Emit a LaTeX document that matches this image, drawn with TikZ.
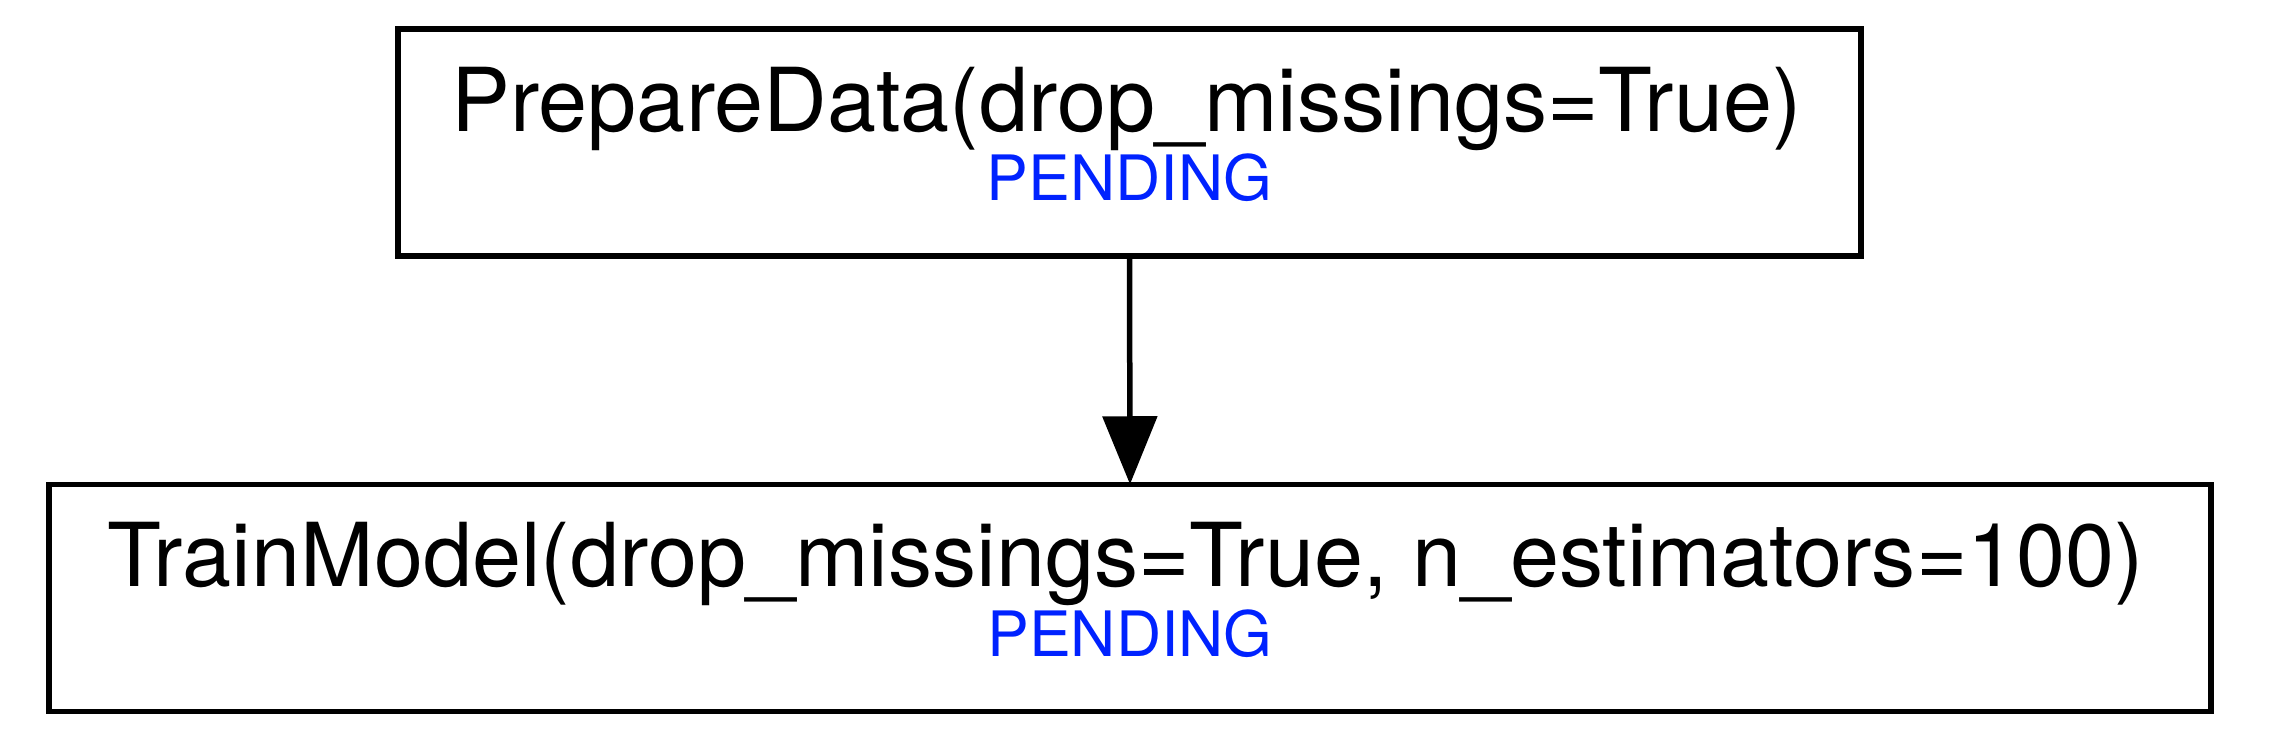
\documentclass[tikz,border=0pt]{standalone}
\usepackage{fontspec}
\setmainfont{TeX Gyre Heros}
\usetikzlibrary{arrows.meta,calc}
\definecolor{pendblue}{RGB}{0,34,255}
\tikzset{
  taskbox/.style={draw=black, line width=2.75pt, rectangle, inner sep=0pt, outer sep=0pt, minimum height=113.5pt},
  tasktext/.style={anchor=base, inner sep=0pt, font=\fontsize{44.1}{53}\selectfont},
  statustext/.style={anchor=base, inner sep=0pt, text=pendblue, font=\fontsize{31.3}{37}\selectfont},
  flow/.style={draw=black, line width=2.75pt, -{Triangle[length=34pt,width=27pt]}}
}
\begin{document}
\begin{tikzpicture}[x=0.5pt,y=-0.5pt]
\useasboundingbox (0,0) rectangle (2274,754);
\node[taskbox, minimum width=731.5pt] (prep) at (1129.5,142.5) {};
\node[taskbox, minimum width=1081pt] (train) at (1130,597.75) {};
\node[tasktext] (preplabel) at ($(prep.north)+(-1.5pt,-51.5pt)$) {PrepareData(drop\_missings=True)};
\node[statustext] (prepstatus) at ($(prep.north)+(0,-86pt)$) {PENDING};
\node[tasktext] (trainlabel) at ($(train.north)+(-2pt,-51.25pt)$) {TrainModel(drop\_missings=True, n\_estimators=100)};
\node[statustext] (trainstatus) at ($(train.north)+(0,-86pt)$) {PENDING};
\draw[flow] (prep.south) -- (train.north);
\end{tikzpicture}
\end{document}
